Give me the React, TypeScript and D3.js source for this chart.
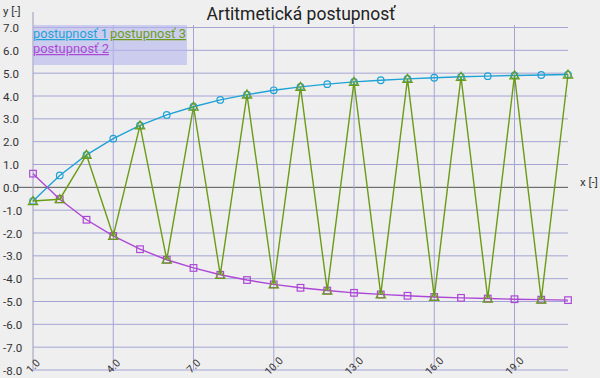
import React from "react";
import * as d3 from "d3";

const xs = [1, 2, 3, 4, 5, 6, 7, 8, 9, 10, 11, 12, 13, 14, 15, 16, 17, 18, 19, 20, 21];
const series1 = [-0.6, 0.52, 1.42, 2.13, 2.71, 3.17, 3.53, 3.83, 4.06, 4.25, 4.4, 4.52, 4.62, 4.69, 4.75, 4.8, 4.84, 4.87, 4.9, 4.92, 4.94];
const series2 = [0.6, -0.52, -1.42, -2.13, -2.71, -3.17, -3.53, -3.83, -4.06, -4.25, -4.4, -4.52, -4.62, -4.69, -4.75, -4.8, -4.84, -4.87, -4.9, -4.92, -4.94];
const series3 = [-0.6, -0.52, 1.42, -2.13, 2.71, -3.17, 3.53, -3.83, 4.06, -4.25, 4.4, -4.52, 4.62, -4.69, 4.75, -4.8, 4.84, -4.87, 4.9, -4.92, 4.94];
const yTicks = [7, 6, 5, 4, 3, 2, 1, 0, -1, -2, -3, -4, -5, -6, -7, -8];
const xTicks = [1, 4, 7, 10, 13, 16, 19];
const names = ["postupnosť 1", "postupnosť 2", "postupnosť 3"];
const title = "Artitmetická postupnosť";

const BLUE = "#1fa2d6";
const PURPLE = "#ad48d6";
const GREEN = "#6b9c17";
const GRID = "#a4a4d4";
const FONT = "Roboto, 'Noto Sans', sans-serif";

export default function App() {
  const W = 600, H = 378;
  const x = d3.scaleLinear().domain([1, 21]).range([33, 568]);
  const y = d3.scaleLinear().domain([-8, 7]).range([370, 27.5]);
  const line = d3.line<number>().x((_, i) => x(xs[i])).y((d) => y(d));
  const tri = d3.symbol(d3.symbolTriangle, 38)();

  return (
    <div style={{ position: "fixed", left: 0, top: 0 }}>
      <svg width={W} height={H} style={{ display: "block", fontFamily: FONT }}>
        <rect x={0} y={0} width={W} height={H} fill="#efefef" />
        {yTicks.map((t) => (
          <line key={"h" + t} x1={t === 0 ? 17 : 33} x2={568} y1={y(t)} y2={y(t)}
            stroke={t === 0 ? "#555" : GRID} strokeWidth={1} />
        ))}
        {xTicks.map((t) => (
          <line key={"v" + t} x1={x(t)} x2={x(t)} y1={t === 1 ? 12 : 25} y2={370}
            stroke={t === 1 ? "#9a9aba" : GRID} strokeWidth={1} />
        ))}
        {yTicks.map((t) => (
          <text key={"yl" + t} x={3} y={y(t) + 4.5} fontSize={11.5} fill="#333">{t.toFixed(1)}</text>
        ))}
        {xTicks.map((t) => (
          <text key={"xl" + t} transform={`translate(${x(t)},${366}) rotate(-45)`} textAnchor="middle"
            dy="0.35em" fontSize={10.5} fill="#333">{t.toFixed(1)}</text>
        ))}
        <text x={3} y={15} fontSize={11.5} fill="#333">y [-]</text>
        <text x={580} y={186} fontSize={11.5} fill="#333">x [-]</text>
        <text x={301} y={20} textAnchor="middle" fontSize={17.5} fill="#222">{title}</text>

        <path d={line(series1) || ""} fill="none" stroke={BLUE} strokeWidth={1.4} />
        {series1.map((v, i) => (
          <circle key={"c" + i} cx={x(xs[i])} cy={y(v)} r={3.3} fill="none" stroke={BLUE} strokeWidth={1.2} />
        ))}
        <path d={line(series2) || ""} fill="none" stroke={PURPLE} strokeWidth={1.4} />
        {series2.map((v, i) => (
          <rect key={"s" + i} x={x(xs[i]) - 3.3} y={y(v) - 3.3} width={6.6} height={6.6} fill="none" stroke={PURPLE} strokeWidth={1.2} />
        ))}
        <path d={line(series3) || ""} fill="none" stroke={GREEN} strokeWidth={1.4} />
        {series3.map((v, i) => (
          <path key={"t" + i} d={tri || ""} transform={`translate(${x(xs[i])},${y(v) + 0.8})`} fill="none" stroke={GREEN} strokeWidth={1.2} />
        ))}

        <rect x={33} y={25} width={154} height={40} fill="#b4b4ee" fillOpacity={0.6} />
        <text x={33} y={38} fontSize={12.5} fill={BLUE} textDecoration="underline" textLength={75} lengthAdjust="spacingAndGlyphs">{names[0]}</text>
        <text x={110} y={38} fontSize={12.5} fill={GREEN} textDecoration="underline" textLength={76} lengthAdjust="spacingAndGlyphs">{names[2]}</text>
        <text x={33} y={53} fontSize={12.5} fill={PURPLE} textDecoration="underline" textLength={76} lengthAdjust="spacingAndGlyphs">{names[1]}</text>
      </svg>
    </div>
  );
}
